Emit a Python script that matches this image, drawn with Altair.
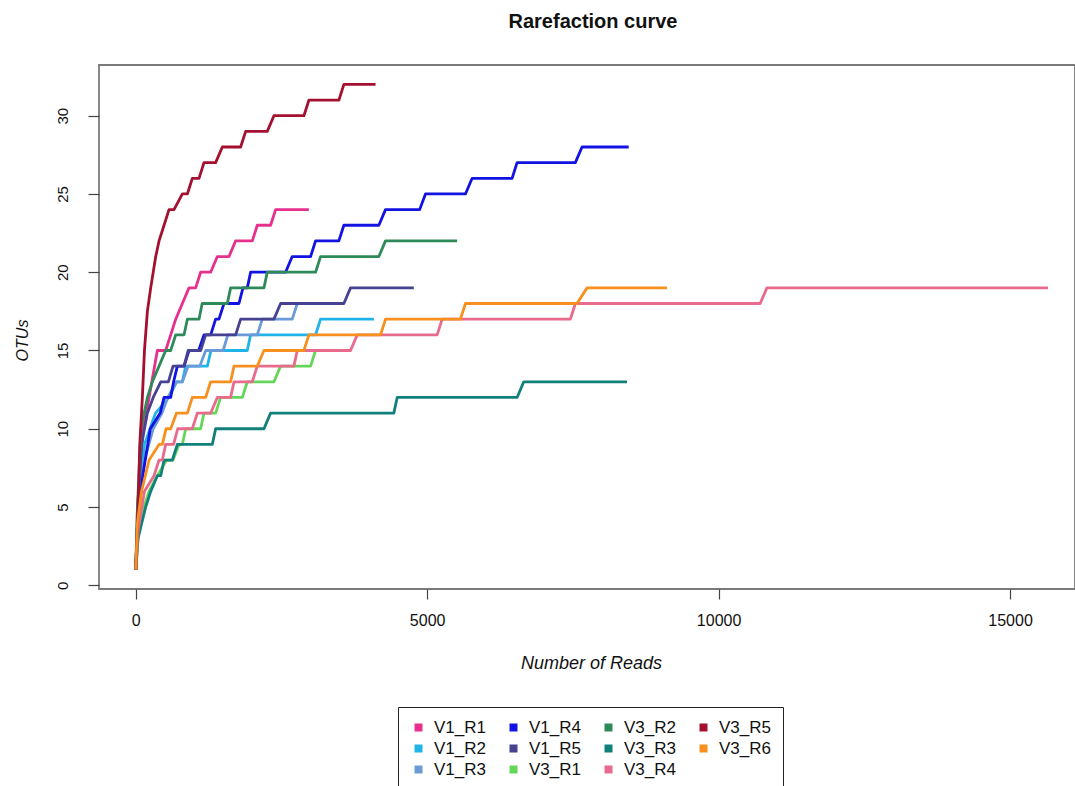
import altair as alt
import pandas as pd

# legend is filled column by column (3 rows, 4 columns) in this order
SERIES = ["V1_R1", "V1_R2", "V1_R3", "V1_R4", "V1_R5",
          "V3_R1", "V3_R2", "V3_R3", "V3_R4", "V3_R5", "V3_R6"]
COLORS = ["#E6308E", "#1EB4E8", "#6B9AD6", "#1212E2", "#464191",
          "#66D65A", "#2F8A5A", "#12807A", "#E86A8C", "#A31030", "#F7901E"]
X_TICKS = [0, 5000, 10000, 15000]
Y_TICKS = [0, 5, 10, 15, 20, 25, 30]

V1_R1_reads = [1, 30, 131, 229, 371, 514, 600, 686, 800, 914, 1028, 1114, 1286,
               1400, 1600, 1714, 2000, 2086, 2314, 2400, 2971]
V1_R1_otus = [1, 5, 10, 12, 15, 15, 16, 17, 18, 19, 19, 20, 20,
              21, 21, 22, 22, 23, 23, 24, 24]

V1_R2_reads = [1, 40, 150, 340, 571, 700, 800, 857, 1229, 1290, 1914, 1971,
               3085, 3171, 4086]
V1_R2_otus = [1, 5, 9, 11, 12, 13, 13, 14, 14, 15, 15, 16, 16, 17, 17]

V1_R3_reads = [1, 40, 150, 300, 450, 550, 700, 800, 900, 1100, 1200, 1500,
               1580, 2086, 2171, 2686, 2771, 2800]
V1_R3_otus = [1, 5, 8, 10, 11, 12, 13, 13, 14, 14, 15, 15, 16, 16, 17, 17, 18, 18]

V1_R4_reads = [1, 40, 120, 250, 420, 486, 600, 650, 714, 829, 914, 1080, 1171,
               1286, 1371, 1428, 1514, 1771, 1840, 1914, 1971, 2571, 2685, 3000,
               3085, 3485, 3571, 4171, 4285, 4871, 4971, 5657, 5771, 6457, 6542,
               7542, 7657, 8457]
V1_R4_otus = [1, 4, 7, 10, 11, 12, 12, 13, 14, 14, 15, 15, 16,
              16, 17, 17, 18, 18, 19, 19, 20, 20, 21, 21,
              22, 22, 23, 23, 24, 24, 25, 25, 26, 26, 27,
              27, 28, 28]

V1_R5_reads = [1, 40, 100, 200, 300, 430, 560, 640, 830, 900, 1114, 1200, 1714,
               1800, 2371, 2486, 3571, 3685, 4771]
V1_R5_otus = [1, 5, 9, 11, 12, 13, 13, 14, 14, 15, 15, 16, 16,
              17, 17, 18, 18, 19, 19]

V3_R1_reads = [1, 40, 143, 228, 371, 530, 640, 743, 800, 857, 1114, 1171, 1371,
               1457, 1829, 1914, 2371, 2486, 3000, 3085, 3142]
V3_R1_otus = [1, 3, 5, 6, 7, 8, 8, 9, 9, 10, 10, 11, 11,
              12, 12, 13, 13, 14, 14, 15, 15]

V3_R2_reads = [1, 30, 90, 200, 286, 400, 514, 600, 686, 829, 886, 1086, 1140,
               1571, 1628, 2200, 2257, 3085, 3171, 4171, 4285, 5514]
V3_R2_otus = [1, 5, 10, 12, 13, 14, 15, 15, 16, 16, 17, 17, 18,
              18, 19, 19, 20, 20, 21, 21, 22, 22]

V3_R3_reads = [1, 40, 171, 257, 371, 430, 486, 628, 714, 1314, 1371, 2200,
               2314, 4428, 4486, 6543, 6657, 8428]
V3_R3_otus = [1, 3, 5, 6, 7, 7, 8, 8, 9, 9, 10, 10, 11, 11, 12, 12, 13, 13]

V3_R4_reads = [1, 40, 150, 314, 400, 457, 514, 650, 720, 971, 1057, 1286, 1400,
               1628, 1686, 2000, 2085, 2714, 2771, 3685, 3800, 5171, 5257, 7457,
               7543, 10713, 10828, 15650]
V3_R4_otus = [1, 3.5, 6, 7, 8, 8, 9, 9, 10, 10, 11, 11, 12,
              12, 13, 13, 14, 14, 15, 15, 16, 16, 17, 17,
              18, 18, 19, 19]

V3_R5_reads = [1, 40, 70, 114, 150, 200, 257, 343, 400, 486, 571, 657, 800, 886,
               971, 1086, 1171, 1371, 1486, 1800, 1886, 2257, 2371, 2886, 2971,
               3486, 3571, 4114]
V3_R5_otus = [1, 5, 9, 12, 15, 17.5, 19, 21, 22, 23, 24, 24, 25, 25,
              26, 26, 27, 27, 28, 28, 29, 29, 30, 30, 31,
              31, 32, 32]

V3_R6_reads = [1, 30, 100, 230, 400, 457, 520, 600, 700, 886, 971, 1200, 1286,
               1628, 1686, 2086, 2200, 2885, 2971, 4200, 4286, 5571, 5657, 7571,
               7743, 9114]
V3_R6_otus = [1, 4, 6, 8, 9, 9, 10, 10, 11, 11, 12, 12, 13,
              13, 14, 14, 15, 15, 16, 16, 17, 17, 18, 18,
              19, 19]

READS = [V1_R1_reads, V1_R2_reads, V1_R3_reads, V1_R4_reads, V1_R5_reads,
         V3_R1_reads, V3_R2_reads, V3_R3_reads, V3_R4_reads, V3_R5_reads, V3_R6_reads]
OTUS = [V1_R1_otus, V1_R2_otus, V1_R3_otus, V1_R4_otus, V1_R5_otus,
        V3_R1_otus, V3_R2_otus, V3_R3_otus, V3_R4_otus, V3_R5_otus, V3_R6_otus]

rows = []
for s_i, (name, rr, oo) in enumerate(zip(SERIES, READS, OTUS)):
    for p_i, (r, o) in enumerate(zip(rr, oo)):
        rows.append({"series": name, "reads": r, "otus": o, "sidx": s_i, "pidx": p_i})
df = pd.DataFrame(rows)

FONT = "Liberation Sans"

x_enc = alt.X("reads:Q",
              scale=alt.Scale(domain=[-630, 16114], nice=False, zero=False),
              axis=alt.Axis(values=X_TICKS, title="Number of Reads", format="d",
                            grid=False, domain=False, tickSize=10, tickColor="#444",
                            tickWidth=1.2,
                            labelFont=FONT, labelFontSize=16, labelColor="#111",
                            labelBaseline="middle", labelPadding=21,
                            titleFont=FONT, titleFontSize=18, titleFontStyle="italic",
                            titleFontWeight="normal", titleColor="#111",
                            titleX=492, titleY=74, titleAlign="center",
                            titleBaseline="middle"))
y_enc = alt.Y("otus:Q",
              scale=alt.Scale(domain=[-0.24, 33.24], nice=False, zero=False),
              axis=alt.Axis(values=Y_TICKS, title="OTUs",
                            grid=False, domain=False, tickSize=11, tickColor="#444",
                            tickWidth=1.2,
                            labelFont=FONT, labelFontSize=15, labelColor="#111",
                            labelAngle=270, labelAlign="center", labelBaseline="middle",
                            labelPadding=26,
                            titleFont=FONT, titleFontSize=16, titleFontStyle="italic",
                            titleFontWeight="normal", titleColor="#111",
                            titleAngle=270, titleX=-77, titleY=275, titleAlign="center",
                            titleBaseline="middle"))

chart = alt.Chart(df).mark_line(strokeWidth=2.8, strokeJoin="round", clip=True).encode(
    x=x_enc,
    y=y_enc,
    color=alt.Color("series:N", scale=alt.Scale(domain=SERIES, range=COLORS),
                    legend=alt.Legend(title=None, orient="none", legendX=299, legendY=642,
                                      columns=4, symbolType="square", symbolSize=9,
                                      symbolStrokeWidth=5, symbolOpacity=1,
                                      labelFont=FONT, labelFontSize=17, labelColor="#111",
                                      labelOffset=7, columnPadding=16, rowPadding=-2,
                                      padding=12, strokeColor="#222")),
    detail="sidx:O",
    order="pidx:Q",
).properties(
    width=976,
    height=524,
    title=alt.TitleParams("Rarefaction curve", font=FONT, fontSize=20,
                          fontWeight="bold", anchor="middle", offset=33, dx=6,
                          color="#111"),
    autosize=alt.AutoSizeParams(type="none"),
    padding={"left": 99, "top": 65, "right": 0, "bottom": 197},
).configure_view(stroke="#7a7a7a", strokeWidth=1.8)

chart.save("out.html", embed_options={"renderer": "svg", "actions": False})
